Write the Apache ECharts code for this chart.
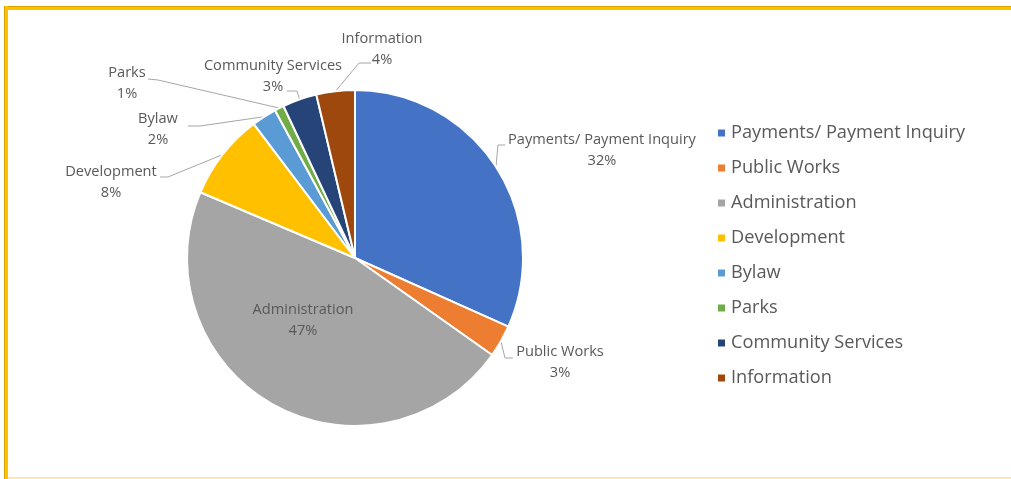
<!DOCTYPE html>
<html>
<head>
<meta charset="utf-8">
<script src="https://cdn.jsdelivr.net/npm/echarts@6/dist/echarts.min.js"></script>
<style>
  html, body { margin: 0; padding: 0; background: #fff; }
  #frame { position: absolute; left: 0; top: 0; width: 1011px; height: 479px; }
  #edgeTop { position: absolute; left: 4px; top: 6px; width: 1007px; height: 4px; background: #FFC000; border-top: 1px solid #D9A300; box-sizing: border-box; }
  #edgeLeft { position: absolute; left: 4px; top: 6px; width: 4px; height: 473px; background: #FFC000; border-left: 1px solid #D9A300; box-sizing: border-box; }
  #edgeBottom { position: absolute; left: 8px; top: 477px; width: 1003px; height: 2px; background: #FFE9A8; }
  #chart { position: absolute; left: 0; top: 0; width: 1011px; height: 479px; }
</style>
</head>
<body>
<div id="frame">
  <div id="chart"></div>
  <div id="edgeTop"></div>
  <div id="edgeLeft"></div>
  <div id="edgeBottom"></div>
</div>
<script>
// Share of enquiries by department (percent)
const categories = [
  'Payments/ Payment Inquiry', 'Public Works', 'Administration', 'Development',
  'Bylaw', 'Parks', 'Community Services', 'Information'
];
const shares = [31.7, 3.1, 46.6, 8.3, 2.4, 0.9, 3.3, 3.7];
const colors = ['#4472C4', '#ED7D31', '#A5A5A5', '#FFC000', '#5B9BD5', '#70AD47', '#264478', '#9E480E'];

// Where each two-line data label sits (centre of the text block)
const labelAnchors = [
  [602, 150], [560, 362], [303, 320], [111, 182],
  [158, 129], [127, 83], [273, 76], [382, 49]
];
// Elbow and end of each leader line next to its label (null = no leader)
const leaderEnds = [
  [[498, 145], [505, 145]],
  [[505, 358], [513, 358]],
  null,
  [[168, 177], [160, 177]],
  [[200, 126], [188, 126]],
  [[158, 80], [148, 79]],
  [[297, 91], [287, 91]],
  [[359, 63], [371, 63]]
];

const chart = echarts.init(document.getElementById('chart'), null, { renderer: 'canvas' });

const textColor = '#595959';
const fontFamily = '"Open Sans", "Noto Sans", sans-serif';

chart.setOption({
  animation: false,
  color: colors,
  legend: {
    orient: 'vertical',
    left: 711,
    top: 118,
    itemWidth: 9,
    itemHeight: 9,
    itemGap: 15,
    icon: 'rect',
    textStyle: { color: textColor, fontSize: 18.2, fontFamily: fontFamily, lineHeight: 20 },
    data: categories
  },
  series: [{
    type: 'pie',
    center: [355, 258],
    radius: 168,
    startAngle: 90,
    clockwise: true,
    percentPrecision: 0,
    itemStyle: { borderColor: '#fff', borderWidth: 2 },
    label: {
      show: true,
      formatter: '{b}\n{d}%',
      color: textColor,
      fontSize: 14.6,
      fontFamily: fontFamily,
      lineHeight: 21,
      align: 'center'
    },
    labelLine: {
      show: true,
      length: 10,
      length2: 6,
      lineStyle: { color: '#A6A6A6', width: 1 }
    },
    labelLayout: function (params) {
      const i = params.dataIndex;
      const p = labelAnchors[i];
      const out = { x: p[0], y: p[1], align: 'center', verticalAlign: 'middle' };
      const ends = leaderEnds[i];
      if (ends && params.labelLinePoints) {
        // keep the start point on the slice edge, bend next to the label
        out.labelLinePoints = [params.labelLinePoints[0], ends[0], ends[1]];
      }
      return out;
    },
    data: categories.map(function (name, i) {
      const item = { name: name, value: shares[i] };
      if (name === 'Administration') {
        item.label = { position: 'inner' };
        item.labelLine = { show: false };
      }
      return item;
    })
  }]
});
</script>
</body>
</html>
